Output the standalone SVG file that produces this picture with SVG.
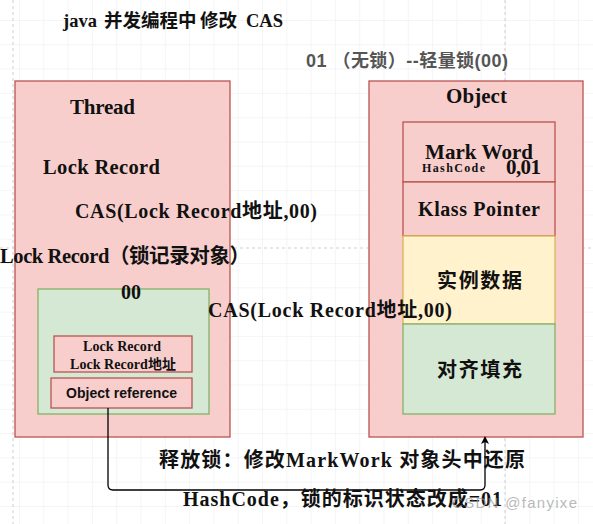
<svg xmlns="http://www.w3.org/2000/svg" width="593" height="524" viewBox="0 0 593 524">
<defs>
<pattern id="grid" x="19" y="20" width="24.3" height="24.3" patternUnits="userSpaceOnUse">
<path d="M0 0H24.3M0 0V24.3" fill="none" stroke="#ebebeb" stroke-width="1"/>
</pattern>
<marker id="arr" markerWidth="10" markerHeight="10" refX="5" refY="5" orient="auto" markerUnits="userSpaceOnUse">
<path d="M1 1L9 5L1 9L3 5Z" fill="#000"/>
</marker>
<style>
.red{fill:#f8cecc;stroke:#b85450;stroke-width:1.3}
.green{fill:#d5e8d4;stroke:#82b366;stroke-width:1.3}
.yellow{fill:#fff2cc;stroke:#d6b656;stroke-width:1.3}
.s{font-family:"Liberation Serif","Noto Sans CJK SC",serif;font-weight:bold;fill:#111}
.a{font-family:"Liberation Sans","Noto Sans CJK SC",sans-serif;font-weight:bold;fill:#111}
.pg{stroke:#cfcfcf;stroke-dasharray:3 3;stroke-width:1;fill:none}
</style>
</defs>
<rect width="593" height="524" fill="#fff"/>
<rect width="593" height="524" fill="url(#grid)"/>
<path class="pg" d="M13 0V524M0 248H593M505 0V524"/>

<text class="s" font-size="18.5" y="27"><tspan x="63">java</tspan><tspan x="104">并发编程中</tspan><tspan x="200">修改</tspan><tspan x="246">CAS</tspan></text>
<text class="a" x="306" y="67" font-size="18" textLength="202" lengthAdjust="spacing" style="fill:#555">01 （无锁）--轻量锁(00)</text>

<g id="thread">
<rect class="red" x="15" y="81" width="215" height="356"/>
<text class="s" x="70" y="114" font-size="21" textLength="65" lengthAdjust="spacing">Thread</text>
<text class="s" x="43" y="174" font-size="20.5" textLength="117" lengthAdjust="spacing">Lock Record</text>
</g>

<g id="lockrecord">
<rect class="green" x="38" y="289" width="171" height="125"/>
<text class="s" x="121" y="299" font-size="20" textLength="20" lengthAdjust="spacing">00</text>
</g>

<g id="lr-addr">
<rect class="red" x="54" y="336" width="138" height="36"/>
<text class="s" x="83" y="351" font-size="14" textLength="78" lengthAdjust="spacing">Lock Record</text>
<text class="s" x="70" y="369" font-size="14" textLength="106" lengthAdjust="spacing">Lock Record地址</text>
</g>

<g id="objref">
<rect class="red" x="51" y="378" width="141" height="30"/>
<text class="a" x="66" y="398" font-size="14" textLength="111" lengthAdjust="spacing">Object reference</text>
</g>

<g id="object">
<rect class="red" x="369" y="81" width="214" height="356"/>
<text class="s" x="446" y="103" font-size="21" textLength="61" lengthAdjust="spacing">Object</text>
</g>

<g id="markword">
<rect class="red" x="403" y="122" width="152" height="60"/>
<text class="s" x="425" y="159" font-size="21" textLength="108" lengthAdjust="spacing">Mark Word</text>
<text class="s" x="422" y="172" font-size="12" textLength="63" lengthAdjust="spacing">HashCode</text>
<text class="s" x="506" y="174" font-size="21" textLength="35" lengthAdjust="spacing">0,01</text>
</g>

<g id="klass">
<rect class="red" x="403" y="182" width="152" height="54"/>
<text class="s" x="418" y="216" font-size="20" textLength="122" lengthAdjust="spacing">Klass Pointer</text>
</g>

<g id="instance">
<rect class="yellow" x="403" y="236" width="152" height="88"/>
<text class="a" x="437" y="288" font-size="20" textLength="85" lengthAdjust="spacing">实例数据</text>
</g>

<g id="padding">
<rect class="green" x="403" y="324" width="152" height="90"/>
<text class="a" x="437" y="377" font-size="20" textLength="85" lengthAdjust="spacing">对齐填充</text>
</g>

<g id="labels">
<text class="s" x="75" y="218" font-size="20" textLength="242" lengthAdjust="spacing">CAS(Lock Record地址,00)</text>
<text class="s" x="0" y="263" font-size="20.5" textLength="250" lengthAdjust="spacing">Lock Record（锁记录对象）</text>
<text class="s" x="208" y="317" font-size="20" textLength="244" lengthAdjust="spacing">CAS(Lock Record地址,00)</text>
</g>

<g id="connectors">
<path d="M108 408V485Q108 490 113 490H480Q485 490 485 485V440" fill="none" stroke="#000" stroke-width="1.3" marker-end="url(#arr)"/>
</g>

<text class="s" x="159" y="467" font-size="20" textLength="366" lengthAdjust="spacing">释放锁：修改MarkWork 对象头中还原</text>
<text class="s" x="183" y="506" font-size="20" textLength="319" lengthAdjust="spacing">HashCode，锁的标识状态改成=01</text>
<text x="452" y="508" font-family="Liberation Sans, sans-serif" font-size="15" fill="#999" fill-opacity="0.7" textLength="125" lengthAdjust="spacing">CSDN @fanyixe</text>
</svg>
